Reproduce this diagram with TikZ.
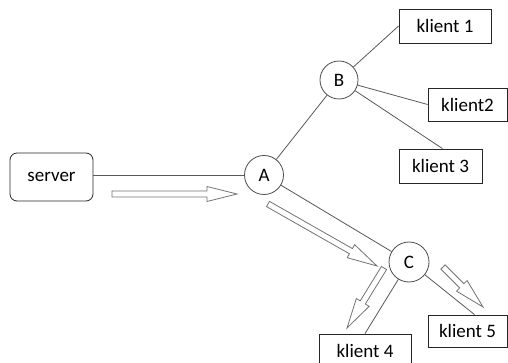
\documentclass[tikz,border=0pt]{standalone}
\usepackage{fontspec}
\setmainfont{Carlito}
\usetikzlibrary{calc}

\tikzset{
  box/.style={draw=black!85, line width=0.8pt, inner sep=0pt, minimum height=34pt},
  hub/.style={circle, draw=black!70, line width=0.8pt, inner sep=0pt, minimum size=39pt},
  link/.style={draw=black!65, line width=0.8pt},
  hollow/.style={draw=black!55, line width=0.8pt, fill=white, line join=miter}
}

% a wide hollow arrow from #1 to #2
\newcommand{\fatarrow}[2]{%
  \path coordinate (h) at ($(#2)!30pt!(#1)$);
  \draw[hollow] ($(#1)!3pt!90:(#2)$) -- ($(h)!3pt!90:(#2)$) -- ($(h)!7.5pt!90:(#2)$)
    -- (#2) -- ($(h)!7.5pt!-90:(#2)$) -- ($(h)!3pt!-90:(#2)$) -- ($(#1)!3pt!-90:(#2)$) -- cycle;
}

\begin{document}
\begin{tikzpicture}[x=1pt, y=-1pt, font=\fontsize{19}{22}\selectfont]
        \useasboundingbox (0,0) rectangle (508,363);

        % Server and the routers
        \node[box, rounded corners=7pt, minimum width=83pt, minimum height=48pt] (server) at (51.5,177) {server};
        \node[hub] (A) at (264,175) {A};
        \node[hub, minimum size=38pt] (B) at (339,80) {B};
        \node[hub, minimum size=40pt] (C) at (409,262) {C};

        % Clients
        \node[box, minimum width=92pt] (k1) at (445,26) {klient 1};
        \node[box, minimum width=79pt, minimum height=33pt] (k2) at (467.5,104.5) {klient2};
        \node[box, minimum width=83pt] (k3) at (440.5,166) {klient 3};
        \node[box, minimum width=92pt] (k4) at (365,351) {klient 4};
        \node[box, minimum width=79pt, minimum height=32pt] (k5) at (467.5,331) {klient 5};

        % Links
        \draw[link] (server.east |- A.west) -- (A.west);
        \draw[link] (A) -- (B);
        \draw[link] (A) -- (C);
        \draw[link] (B) -- (k1.west);
        \draw[link] (B) -- (k2.west);
        \draw[link] (B) -- ([xshift=2pt]k3.north);
        \draw[link] (C) -- (k4.north);
        \draw[link] (C) -- ([xshift=7pt]k5.north);

        % Direction of the data flow
        \coordinate (f1s) at (112,194);
        \coordinate (f1e) at (237,194);
        \coordinate (f2s) at (268,204);
        \coordinate (f2e) at (377,266);
        \coordinate (f3s) at (384,268);
        \coordinate (f3e) at (347,328);
        \coordinate (f4s) at (443,267);
        \coordinate (f4e) at (483,307);
        \fatarrow{f1s}{f1e}
        \fatarrow{f2s}{f2e}
        \fatarrow{f3s}{f3e}
        \fatarrow{f4s}{f4e}
    \end{tikzpicture}
\end{document}
